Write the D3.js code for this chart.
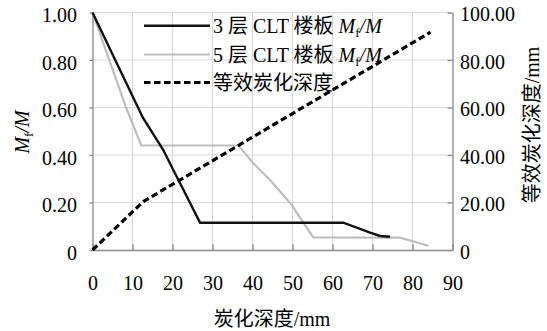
<!DOCTYPE html>
<html>
<head>
<meta charset="utf-8">
<script src="https://cdn.jsdelivr.net/npm/d3@7"></script>
</head>
<body style="margin:0;background:#fff">
<svg id="chart"></svg>
<script>
// Char depth (mm) vs. residual moment ratio Mf/M, plus equivalent char depth
const depth3 = [0, 12.6, 17.7, 20.2, 21.9, 26.9, 62.7, 69.4, 71.9, 74.4];
const ratio3 = [1.00, 0.557, 0.421, 0.337, 0.281, 0.115, 0.115, 0.073, 0.059, 0.056];

const depth5 = [0, 8.4, 12.2, 36.5, 40.2, 44.4, 49.8, 53.1, 55.2, 76.9, 84.0];
const ratio5 = [1.00, 0.60, 0.44, 0.44, 0.365, 0.295, 0.19, 0.105, 0.053, 0.052, 0.018];

const depthEq = [0, 12.7, 84.5];
const eqDepth = [0, 20.4, 91.7];

const xTicks = [0, 10, 20, 30, 40, 50, 60, 70, 80, 90];
const leftTicks = [0, 0.2, 0.4, 0.6, 0.8, 1.0];
const rightTicks = [0, 20, 40, 60, 80, 100];

// each name split into [text, isCJK] runs so every run gets its own font
const seriesNames = [
    [['3 ', 0], ['层', 1], [' CLT ', 0], ['楼板', 1], [' ', 0]],
    [['5 ', 0], ['层', 1], [' CLT ', 0], ['楼板', 1], [' ', 0]],
    [['等效炭化深度', 1]]
];

let width = 547, height = 331;
let axisColor = '#898989', gridColor = '#d9d9d9';
let latin = 'Liberation Serif', cjk = 'Noto Sans CJK SC';

const svg = d3.select('#chart')
    .attr('width', width)
    .attr('height', height);

const x = d3.scaleLinear().domain([0, 90]).range([92.5, 452.5]);
const yL = d3.scaleLinear().domain([0, 1]).range([250, 12.5]);
const yR = d3.scaleLinear().domain([0, 100]).range([250, 12.5]);

// grid
const grid = svg.append('g').attr('class', 'grid')
    .attr('stroke', gridColor).attr('stroke-width', 1.2);
grid.selectAll('.gx').data(xTicks.slice(1, -1)).enter().append('line')
    .attr('x1', d => x(d)).attr('x2', d => x(d))
    .attr('y1', yL(0)).attr('y2', yL(1));
grid.selectAll('.gy').data(leftTicks.slice(1)).enter().append('line')
    .attr('x1', x(0)).attr('x2', x(90))
    .attr('y1', d => yL(d)).attr('y2', d => yL(d));

// axes
const fmt = d => d === 0 ? '0' : d3.format('.2f')(d);

const gLeft = svg.append('g')
    .attr('transform', `translate(${x(0)},0)`)
    .call(d3.axisLeft(yL).tickValues(leftTicks).tickFormat(fmt)
        .tickSizeInner(3).tickSizeOuter(0).tickPadding(12.5));
gLeft.selectAll('text').attr('dy', '0.45em');

const gRight = svg.append('g')
    .attr('transform', `translate(${x(90)},0)`)
    .call(d3.axisRight(yR).tickValues(rightTicks).tickFormat(fmt)
        .tickSizeInner(-5).tickSizeOuter(0).tickPadding(7.5));
gRight.selectAll('text').attr('dy', '0.42em');

const gBottom = svg.append('g')
    .attr('transform', `translate(0,${yL(0)})`)
    .call(d3.axisBottom(x).tickValues(xTicks).tickFormat(d3.format('d'))
        .tickSizeInner(-6).tickSizeOuter(0).tickPadding(25.8));

[gLeft, gRight, gBottom].forEach(g => {
    g.attr('font-family', null).attr('font-size', null);
    g.selectAll('path, line').attr('stroke', axisColor).attr('stroke-width', 1.3);
    g.selectAll('text')
        .style('font-family', latin)
        .style('font-size', '20px')
        .attr('fill', '#000');
});

// lines
const line = (xs, ys, yScale) => d3.line()
    .x((d, i) => x(xs[i]))
    .y((d, i) => yScale(ys[i]))(xs);

svg.append('path')
    .attr('d', line(depth5, ratio5, yL))
    .attr('fill', 'none').attr('stroke', '#bdbdbd').attr('stroke-width', 2.2);

svg.append('path')
    .attr('d', line(depth3, ratio3, yL))
    .attr('fill', 'none').attr('stroke', '#111').attr('stroke-width', 2.4);

svg.append('path')
    .attr('d', line(depthEq, eqDepth, yR))
    .attr('fill', 'none').attr('stroke', '#000').attr('stroke-width', 3.2)
    .attr('stroke-dasharray', '6.5,3.5');

// text helpers
function addRuns(t, runs) {
    runs.forEach(([s, isCjk]) => {
        t.append('tspan').style('font-family', isCjk ? cjk : latin).text(s);
    });
}
function addMfM(t) {
    t.append('tspan').style('font-family', latin).style('font-style', 'italic').text('M');
    t.append('tspan').style('font-family', latin).style('font-size', '13px').attr('dy', 4).text('f');
    t.append('tspan').style('font-family', latin).style('font-style', 'italic').attr('dy', -4).text('/M');
}

// legend
const legendY = [25.7, 54.5, 82.5];
const legendStyle = [
    { stroke: '#111', width: 2.4, dash: null },
    { stroke: '#bdbdbd', width: 2.2, dash: null },
    { stroke: '#000', width: 3.2, dash: '6.5,3.5' }
];
const legend = svg.append('g').attr('class', 'legend');
seriesNames.forEach((runs, i) => {
    legend.append('line')
        .attr('x1', 144).attr('x2', 210)
        .attr('y1', legendY[i]).attr('y2', legendY[i])
        .attr('stroke', legendStyle[i].stroke)
        .attr('stroke-width', legendStyle[i].width)
        .attr('stroke-dasharray', legendStyle[i].dash);
    let t = legend.append('text')
        .attr('x', 213).attr('y', legendY[i] + 7)
        .style('font-size', '20px');
    addRuns(t, runs);
    if (i < 2) addMfM(t);
});

// axis titles
const xt = svg.append('text')
    .attr('x', 272).attr('y', 326)
    .attr('text-anchor', 'middle').style('font-size', '20px');
addRuns(xt, [['炭化深度', 1], ['/mm', 0]]);

const lt = svg.append('text')
    .attr('transform', 'translate(29,132) rotate(-90)')
    .attr('text-anchor', 'middle').style('font-size', '20px');
addMfM(lt);

const rt = svg.append('text')
    .attr('transform', 'translate(539,125) rotate(-90)')
    .attr('text-anchor', 'middle').style('font-size', '20px');
addRuns(rt, [['等效炭化深度', 1], ['/mm', 0]]);
</script>
</body>
</html>
